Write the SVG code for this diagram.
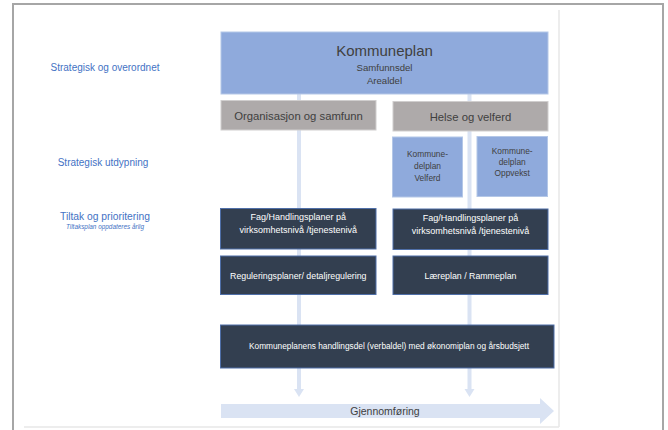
<svg xmlns="http://www.w3.org/2000/svg" width="668" height="430" viewBox="0 0 668 430">
<style>
text{font-family:"Liberation Sans",Arial,sans-serif;text-anchor:middle}
.lbl{fill:#4472c4;font-size:10px}
.blue{fill:#8faadc;stroke:#b4c7e7;stroke-width:1}
.grey{fill:#aeaaaa;stroke:#d0cece;stroke-width:1}
.dark{fill:#333f50;stroke:#4f6fa8;stroke-width:1}
.dt{fill:#404040}
.wt{fill:#ffffff;font-size:9px}
.conn{stroke:#dae3f3;stroke-width:4;fill:none}
.head{fill:#dae3f3}
</style>
<rect width="668" height="430" fill="#ffffff"/>
<g id="frame" fill="none">
<path d="M13,430 V4 H663 V430" stroke="#a6a6a6" stroke-width="2"/>
<path d="M559,10 V427 M24,427 H559" stroke="#e8e8e8" stroke-width="1.5"/>
</g>
<g id="labels">
<text class="lbl" x="105" y="70.5">Strategisk og overordnet</text>
<text class="lbl" x="103" y="165.5">Strategisk utdypning</text>
<text class="lbl" x="105" y="220" style="font-size:10.3px">Tiltak og prioritering</text>
<text class="lbl" x="105" y="229" style="font-size:6.4px;font-style:italic">Tiltaksplan oppdateres årlig</text>
</g>
<g id="connectors">
<line class="conn" x1="299" y1="94" x2="299" y2="389"/>
<polygon class="head" points="294,389 304,389 299,397"/>
<line class="conn" x1="469.5" y1="94" x2="469.5" y2="389"/>
<polygon class="head" points="464.5,389 474.5,389 469.5,397"/>
</g>
<g id="kommuneplan">
<rect class="blue" x="221" y="32" width="327" height="62"/>
<text class="dt" x="384.5" y="56" style="font-size:15px">Kommuneplan</text>
<text class="dt" x="384.5" y="71" style="font-size:9.6px">Samfunnsdel</text>
<text class="dt" x="384.5" y="83.5" style="font-size:9.6px">Arealdel</text>
</g>
<g id="org">
<rect class="grey" x="221" y="100.5" width="155" height="29.5"/>
<text class="dt" x="298.5" y="119.5" style="font-size:11.3px">Organisasjon og samfunn</text>
</g>
<g id="helse">
<rect class="grey" x="393" y="101.5" width="155" height="29.5"/>
<text class="dt" x="470.5" y="120.5" style="font-size:11.3px">Helse og velferd</text>
</g>
<g id="velferd">
<rect class="blue" x="392.5" y="137" width="70" height="60"/>
<text class="dt" x="427.5" y="157" style="font-size:8.4px">Kommune-</text>
<text class="dt" x="427.5" y="169" style="font-size:8.4px">delplan</text>
<text class="dt" x="427.5" y="181" style="font-size:8.4px">Velferd</text>
</g>
<g id="oppvekst">
<rect class="blue" x="477" y="136.5" width="70.5" height="60"/>
<text class="dt" x="512.2" y="153.5" style="font-size:8.4px">Kommune-</text>
<text class="dt" x="512.2" y="164.5" style="font-size:8.4px">delplan</text>
<text class="dt" x="512.2" y="175.5" style="font-size:8.4px">Oppvekst</text>
</g>
<g id="fag1">
<rect class="dark" x="220.5" y="208.5" width="155.5" height="40.5"/>
<text class="wt" x="298.3" y="220">Fag/Handlingsplaner på</text>
<text class="wt" x="298.3" y="233">virksomhetsnivå /tjenestenivå</text>
</g>
<g id="fag2">
<rect class="dark" x="393" y="209" width="155" height="40.5"/>
<text class="wt" x="470.5" y="220.5">Fag/Handlingsplaner på</text>
<text class="wt" x="470.5" y="233.5">virksomhetsnivå /tjenestenivå</text>
</g>
<g id="regulering">
<rect class="dark" x="220.5" y="256" width="155.5" height="38.5"/>
<text class="wt" x="298.3" y="279" style="font-size:8.8px">Reguleringsplaner/ detaljregulering</text>
</g>
<g id="laereplan">
<rect class="dark" x="393" y="256" width="155" height="38.5"/>
<text class="wt" x="470.5" y="279" style="font-size:8.8px">Læreplan / Rammeplan</text>
</g>
<g id="handlingsdel">
<rect class="dark" x="220.5" y="325" width="333.5" height="43"/>
<text class="wt" x="389" y="349" style="font-size:8.3px">Kommuneplanens handlingsdel (verbaldel) med økonomiplan og årsbudsjett</text>
</g>
<g id="gjennomforing">
<polygon points="221,404 540,404 540,398 554,411 540,424 540,418 221,418" fill="#dae3f3"/>
<text class="dt" x="385" y="415" style="font-size:10.5px">Gjennomføring</text>
</g>
</svg>
